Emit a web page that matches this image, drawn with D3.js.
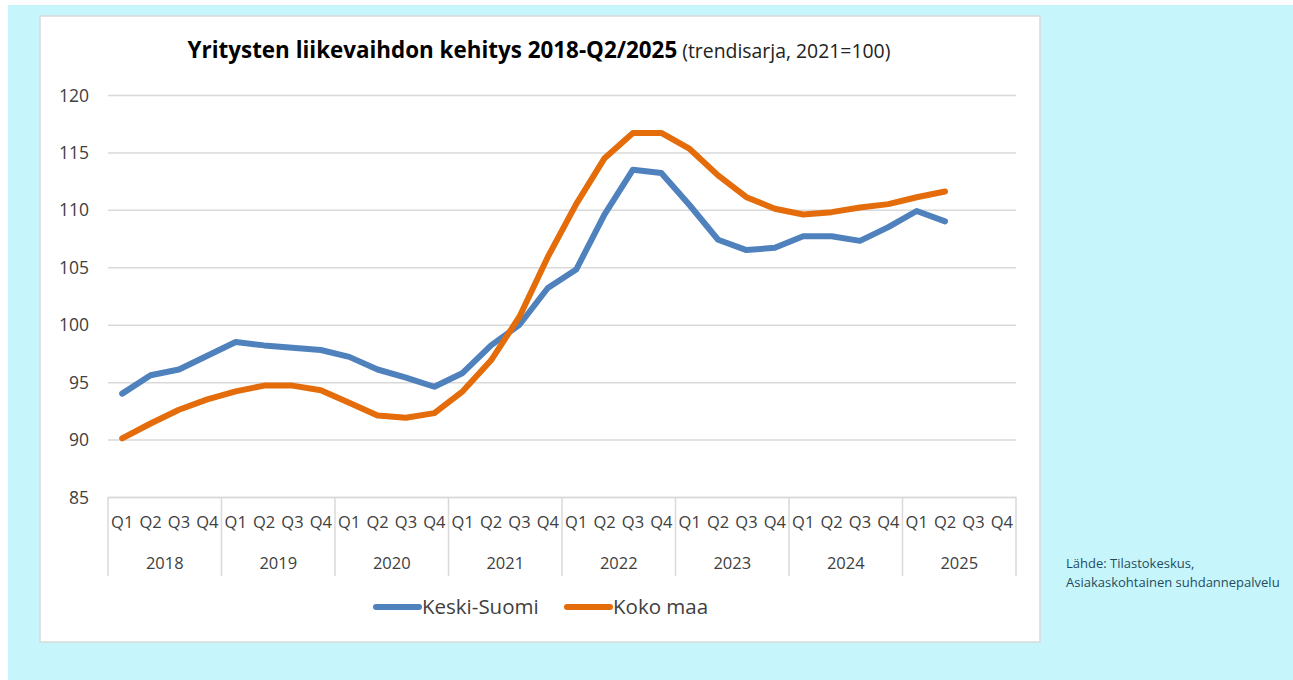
<!DOCTYPE html>
<html>
<head>
<meta charset="utf-8">
<script src="https://cdn.jsdelivr.net/npm/d3@7"></script>
<style>
  html, body { margin: 0; padding: 0; background: #ffffff; }
  svg { display: block; }
  text { font-family: "Open Sans", "DejaVu Sans", sans-serif; }
</style>
</head>
<body>
<svg id="chart" width="1293" height="680"></svg>
<script>
// ---- Data ----
const years = ["2018", "2019", "2020", "2021", "2022", "2023", "2024", "2025"];
const quarters = ["Q1", "Q2", "Q3", "Q4"];
const yTicks = [85, 90, 95, 100, 105, 110, 115, 120];
const seriesNames = ["Keski-Suomi", "Koko maa"];
const keskiSuomi = [
  94.0, 95.6, 96.1, 97.3,
  98.5, 98.2, 98.0, 97.8,
  97.2, 96.1, 95.4, 94.6,
  95.8, 98.2, 100.0, 103.2,
  104.8, 109.6, 113.5, 113.2,
  110.4, 107.4, 106.5, 106.7,
  107.7, 107.7, 107.3, 108.5,
  109.9, 109.0
];
const kokoMaa = [
  90.1, 91.4, 92.6, 93.5,
  94.2, 94.7, 94.7, 94.3,
  93.2, 92.1, 91.9, 92.3,
  94.2, 96.9, 100.7, 105.9,
  110.5, 114.5, 116.7, 116.7,
  115.3, 113.0, 111.1, 110.1,
  109.6, 109.8, 110.2, 110.5,
  111.1, 111.6
];
const titleBold = "Yritysten liikevaihdon kehitys 2018-Q2/2025";
const titleNormal = " (trendisarja, 2021=100)";
const sourceLines = ["Lähde: Tilastokeskus,", "Asiakaskohtainen suhdannepalvelu"];

// ---- Layout ----
const colors = ["#4f81bd", "#e46c0a"];
const svg = d3.select("#chart");

// background
svg.append("rect").attr("x", 8).attr("y", 5).attr("width", 1285).attr("height", 675).attr("fill", "#c7f5fc");
svg.append("rect").attr("x", 40).attr("y", 16).attr("width", 1000).attr("height", 626)
  .attr("fill", "#ffffff").attr("stroke", "#d9d9d9").attr("stroke-width", 1.5);

const plot = { left: 108, right: 1016, top: 95, bottom: 497 };
const cats = [];
years.forEach(y => quarters.forEach(q => cats.push(y + "-" + q)));

const x = d3.scaleBand().domain(cats).range([plot.left, plot.right]).paddingInner(0).paddingOuter(0);
const y = d3.scaleLinear().domain([85, 120]).range([plot.bottom, plot.top]);
const cx = c => x(c) + x.bandwidth() / 2;

// gridlines
const grid = d3.axisLeft(y).tickValues(yTicks).tickSize(-(plot.right - plot.left)).tickFormat("");
const gGrid = svg.append("g").attr("transform", `translate(${plot.left},0)`).call(grid);
gGrid.select(".domain").remove();
gGrid.selectAll(".tick line").attr("stroke", "#d9d9d9").attr("stroke-width", 1.5);

// y labels
const yAxis = d3.axisLeft(y).tickValues(yTicks).tickSize(0).tickPadding(0).tickFormat(d3.format("d"));
const gY = svg.append("g").attr("transform", `translate(89,0)`).call(yAxis);
gY.select(".domain").remove();
gY.selectAll("text").attr("font-family", "Open Sans").attr("font-size", 17.5).attr("fill", "#404040").attr("dy", "0.35em");

// x axis: quarter labels
const xAxis = d3.axisBottom(x).tickSize(0).tickPadding(0).tickFormat(d => d.split("-")[1]);
const gX = svg.append("g").attr("transform", `translate(0,${plot.bottom})`).call(xAxis);
gX.select(".domain").attr("stroke", "#d9d9d9").attr("stroke-width", 1.5);
gX.selectAll("text").attr("font-family", "Open Sans").attr("font-size", 16.5).attr("fill", "#404040")
  .attr("y", 25).attr("dy", "0.35em");

// year group separators
const groupEdges = years.map(yr => x(yr + "-Q1")).concat([plot.right]);
svg.append("g").selectAll("line").data(groupEdges).join("line")
  .attr("x1", d => d).attr("x2", d => d)
  .attr("y1", plot.bottom).attr("y2", 576)
  .attr("stroke", "#d9d9d9").attr("stroke-width", 1.5);

// year labels
svg.append("g").selectAll("text").data(years).join("text")
  .attr("x", yr => (x(yr + "-Q1") + x(yr + "-Q4") + x.bandwidth()) / 2)
  .attr("y", 563).attr("dy", "0.35em")
  .attr("text-anchor", "middle").attr("font-size", 16.5).attr("fill", "#404040")
  .text(d => d);

// lines
const line = d3.line().x((d, i) => cx(cats[i])).y(d => y(d));
[keskiSuomi, kokoMaa].forEach((s, i) => {
  svg.append("path").datum(s).attr("d", line)
    .attr("fill", "none").attr("stroke", colors[i]).attr("stroke-width", 6)
    .attr("stroke-linejoin", "round").attr("stroke-linecap", "round");
});

// title
const title = svg.append("text").attr("x", 539).attr("y", 58).attr("text-anchor", "middle").attr("fill", "#000");
title.append("tspan").attr("font-weight", "bold").attr("font-size", 22.4).text(titleBold);
title.append("tspan").attr("font-size", 19.4).attr("fill", "#222").text(titleNormal);

// legend
const legend = [
  { name: seriesNames[0], color: colors[0], x0: 376, x1: 419, tx: 422 },
  { name: seriesNames[1], color: colors[1], x0: 567, x1: 610, tx: 613 }
];
const gL = svg.append("g");
legend.forEach(l => {
  gL.append("line").attr("x1", l.x0).attr("x2", l.x1).attr("y1", 607).attr("y2", 607)
    .attr("stroke", l.color).attr("stroke-width", 6).attr("stroke-linecap", "round");
  gL.append("text").attr("x", l.tx).attr("y", 607).attr("dy", "0.35em")
    .attr("font-size", 20.5).attr("fill", "#404040").text(l.name);
});

// source
svg.append("g").selectAll("text").data(sourceLines).join("text")
  .attr("x", 1066).attr("y", (d, i) => 568 + i * 19)
  .attr("font-size", 13).attr("fill", "#1e4d5e").text(d => d);
</script>
</body>
</html>
